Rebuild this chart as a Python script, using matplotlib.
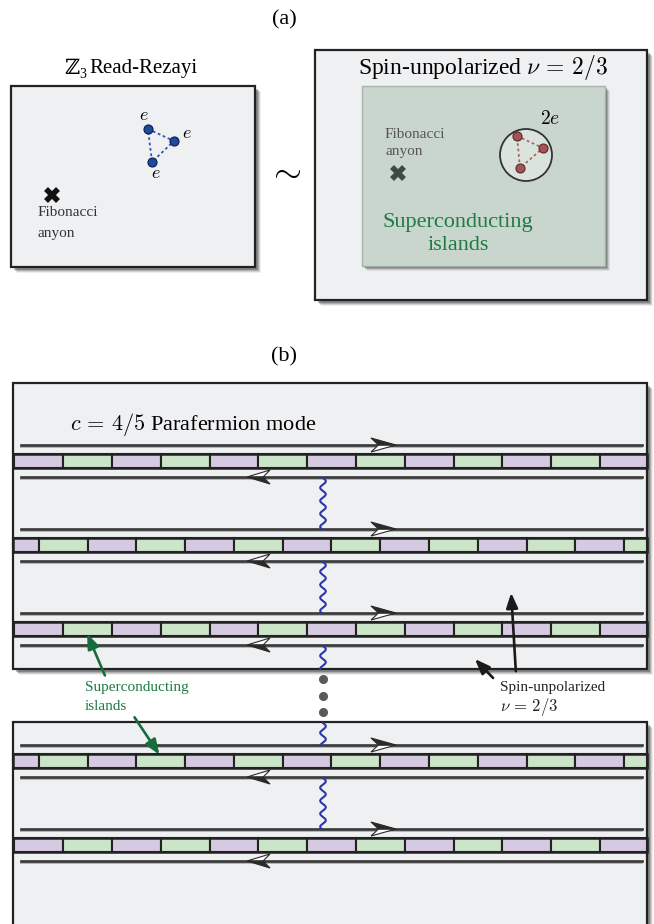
import numpy as np
import matplotlib.pyplot as plt
from matplotlib.patches import Rectangle, Circle, Polygon

plt.rcParams['font.family'] = ['Liberation Serif', 'DejaVu Serif']
plt.rcParams['mathtext.fontset'] = 'cm'

# ---- layout data (pixel units of the 654x924 picture) ----
blue_dots = [(148, 129), (174, 141), (152, 162)]
blue_labels = [(144, 116), (187, 134), (156, 173)]
red_dots = [(517, 136), (543, 148), (520, 168)]

strip_y = [461, 545, 629, 761, 845]       # centres of the island rows
strip_shift = [0, 1, 0, 1, 0]             # half-cell shift of each row
wavy_segments = [(478, 529), (562, 613), (646, 669), (723, 745), (778, 829)]
dots_y = [679, 696, 712]

cell_w = 48.8
cell_x0 = 14.3
n_cells = 14
purple = '#d6c9e2'
green = '#cce4c7'

BOX_BG = '#eff0f2'
DARK = '#222222'

W, H = 654, 924
fig = plt.figure(figsize=(W / 100, H / 100), dpi=100)
ax = fig.add_axes([0, 0, 1, 1])
ax.set_xlim(0, W)
ax.set_ylim(H, 0)
ax.axis('off')


def shadow_box(x0, y0, x1, y1, fc, ec=DARK, lw=1.6, z=1, sh=4):
    for d, a in [(sh + 2, 0.07), (sh + 1, 0.11), (sh, 0.17), (sh - 1.5, 0.24)]:
        ax.add_patch(Rectangle((x0 + d, y0 + d), x1 - x0, y1 - y0,
                               fc='k', ec='none', alpha=a, zorder=z))
    ax.add_patch(Rectangle((x0, y0), x1 - x0, y1 - y0, fc=fc, ec=ec,
                           lw=lw, zorder=z + 0.1))


def cross(x, y, s, color):
    ax.plot([x - s, x + s], [y - s, y + s], color=color, lw=4, solid_capstyle='butt', zorder=5)
    ax.plot([x - s, x + s], [y + s, y - s], color=color, lw=4, solid_capstyle='butt', zorder=5)


def edge(y, direction):
    ax.plot([21, 642], [y + 2.0, y + 2.0], color='#b0b0b0', lw=1.3, zorder=3)
    ax.plot([21, 642], [y, y], color='#383838', lw=1.9, zorder=4)
    if direction > 0:
        tip, back = 396, 371
    else:
        tip, back = 247, 270
    notch = back + (tip - back) * 0.3
    h = 7
    upper = [(tip, y), (back, y - h), (notch, y)]
    lower = [(tip, y), (notch, y), (back, y + h)]
    dark_part, light_part = (upper, lower) if direction > 0 else (lower, upper)
    ax.add_patch(Polygon(light_part, closed=True, fc='white', ec='#2a2a2a', lw=0.8, zorder=6))
    ax.add_patch(Polygon(dark_part, closed=True, fc='#2a2a2a', ec='#2a2a2a', lw=0.8, zorder=6))


def wavy(y0, y1, x=323):
    t = np.linspace(y0, y1, 300)
    ax.plot(x + 2.8 * np.sin(2 * np.pi * (t - y0) / 13.0), t,
            color='#2b37a8', lw=1.5, zorder=5)


# ================= panel (a) =================
ax.text(284, 20, '(a)', fontsize=16, ha='center', va='center')

shadow_box(11, 86, 255, 267, BOX_BG)
ax.text(72, 69, 'ℤ', fontsize=15, ha='center', va='center', family=['DejaVu Serif'])
ax.text(79, 74, '3', fontsize=10, ha='left', va='center')
ax.text(89, 69, 'Read-Rezayi', fontsize=15, ha='left', va='center')
bx = [p[0] for p in blue_dots] + [blue_dots[0][0]]
by = [p[1] for p in blue_dots] + [blue_dots[0][1]]
ax.plot(bx, by, color='#3354b5', lw=1.3, ls=(0, (1.5, 1.5)), zorder=4)
ax.plot(bx[:-1], by[:-1], 'o', ms=6.5, color='#1d49a0', mec='#0c1c44', mew=0.8, zorder=5)
for (lx, ly) in blue_labels:
    ax.text(lx, ly, '$e$', fontsize=13, ha='center', va='center')
cross(52, 195, 6, '#111111')
ax.text(38, 213, 'Fibonacci', fontsize=11, ha='left', va='center', color='#333333')
ax.text(38, 233, 'anyon', fontsize=11, ha='left', va='center', color='#333333')

ax.text(284, 173, r'$\sim$', fontsize=26, ha='center', va='center')

shadow_box(315, 50, 647, 300, BOX_BG)
ax.text(483, 67, r'Spin-unpolarized $\nu\, =\, 2/3$', fontsize=17, ha='center', va='center')
shadow_box(362, 86, 605, 266, '#c9d6cd', ec='#a7b3ab', lw=1.0, z=2, sh=3)
ax.add_patch(Circle((526, 155), 26, fc='#dbe3dd', ec='#333333', lw=1.3, zorder=4))
rx = [p[0] for p in red_dots] + [red_dots[0][0]]
ry = [p[1] for p in red_dots] + [red_dots[0][1]]
ax.plot(rx, ry, color='#b06262', lw=1.3, ls=(0, (1.5, 1.5)), zorder=5)
ax.plot(rx[:-1], ry[:-1], 'o', ms=6.5, color='#a45454', mec='#5a2828', mew=0.8, zorder=6)
ax.text(550, 119, '$2e$', fontsize=14, ha='center', va='center')
ax.text(385, 134, 'Fibonacci', fontsize=11, ha='left', va='center', color='#555555')
ax.text(385, 152, 'anyon', fontsize=11, ha='left', va='center', color='#555555')
cross(398, 173, 6, '#3f4a45')
ax.text(458, 222, 'Superconducting', fontsize=16, ha='center', va='center', color='#1f7a45')
ax.text(458, 245, 'islands', fontsize=16, ha='center', va='center', color='#1f7a45')

# ================= panel (b) =================
ax.text(284, 357, '(b)', fontsize=16, ha='center', va='center')

shadow_box(13, 383, 647, 669, BOX_BG)
shadow_box(13, 722, 647, 940, BOX_BG)
ax.text(70, 425, r'$c\, =\, 4/5$ Parafermion mode', fontsize=16, ha='left', va='center')

for yc, shift in zip(strip_y, strip_shift):
    x_start = cell_x0 - shift * cell_w / 2
    for k in range(n_cells):
        a = max(x_start + k * cell_w, 13)
        b = min(x_start + (k + 1) * cell_w, 647)
        if b <= a:
            continue
        ax.add_patch(Rectangle((a, yc - 7), b - a, 14,
                               fc=purple if k % 2 == 0 else green,
                               ec='#222222', lw=1.5, zorder=5))
    ax.add_patch(Rectangle((13, yc - 7), 634, 14, fc='none', ec='#222222', lw=1.8, zorder=5.5))
    edge(yc - 16, +1)
    edge(yc + 16, -1)

for y0, y1 in wavy_segments:
    wavy(y0, y1)
ax.plot([323] * len(dots_y), dots_y, 'o', ms=5.5, color='#5a5a5a', zorder=5)

# annotations
head = '-|>,head_length=0.9,head_width=0.35'
ax.annotate('', xy=(511, 590), xytext=(516, 674),
            arrowprops=dict(arrowstyle=head, color='#1a1a1a', lw=1.9), zorder=8)
ax.annotate('', xy=(473, 657), xytext=(495, 680),
            arrowprops=dict(arrowstyle=head, color='#1a1a1a', lw=1.9), zorder=8)
ax.text(500, 688, 'Spin-unpolarized', fontsize=11, ha='left', va='center', color='#222222')
ax.text(500, 707, r'$\nu\, =\, 2/3$', fontsize=12, ha='left', va='center', color='#222222')

ax.annotate('', xy=(86, 631), xytext=(106, 678),
            arrowprops=dict(arrowstyle=head, color='#176b3c', lw=1.9), zorder=8)
ax.annotate('', xy=(161, 757), xytext=(133, 715),
            arrowprops=dict(arrowstyle=head, color='#176b3c', lw=1.9), zorder=8)
ax.text(85, 688, 'Superconducting', fontsize=11, ha='left', va='center', color='#1f7a45')
ax.text(85, 707, 'islands', fontsize=11, ha='left', va='center', color='#1f7a45')

fig.savefig('out.png', dpi=100)
